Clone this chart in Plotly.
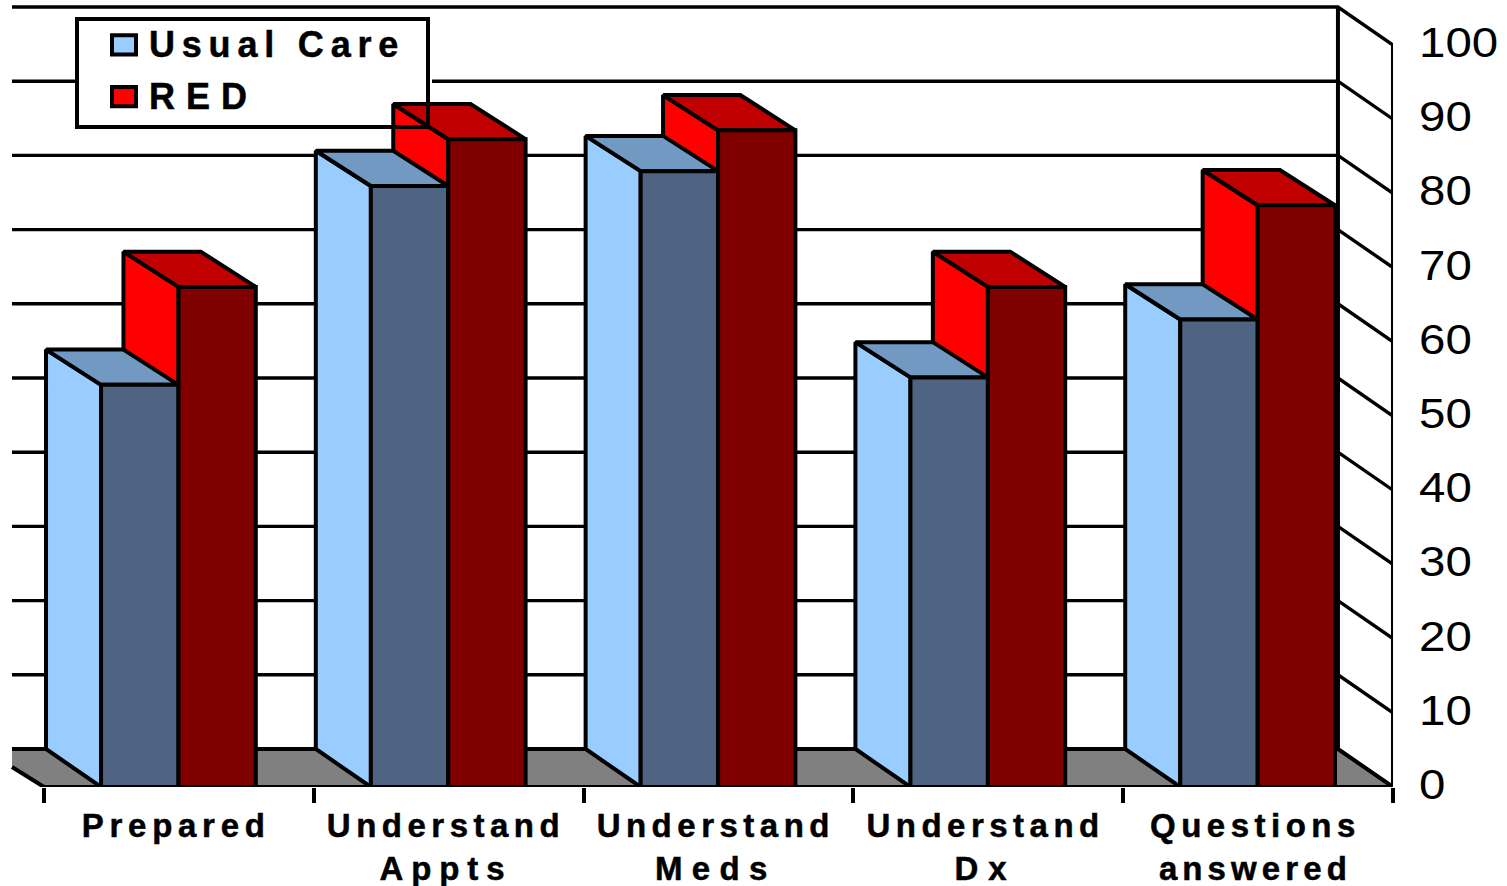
import plotly.graph_objects as go

# Chart data
categories = ["Prepared", "Understand<br>Appts", "Understand<br>Meds", "Understand<br>Dx", "Questions<br>answered"]
usual_care = [54.2, 81, 83, 55.2, 63]
red = [67.4, 87.3, 88.5, 67.4, 78.4]
y_ticks = list(range(0, 101, 10))

# Colours of the three visible faces of each column
UC_FRONT, UC_SIDE, UC_TOP = "#4F6482", "#99CCFF", "#7299C2"
RED_FRONT, RED_SIDE, RED_TOP = "#800000", "#FF0000", "#C00000"
FLOOR = "#808080"
INK = "black"
LW = 4

# Plot frame, in pixels: one category unit across, one percent up
PX_X, PX_Y = 269.8, 7.42
LEFT_PAD, PLOT_BOTTOM = 44, 787
PLOT_W = 1393


def ux(px):
    return (px - LEFT_PAD) / PX_X


def uy(px):
    return (PLOT_BOTTOM - px) / PX_Y


# Oblique depth of the box: horizontal shift, lift of the floor, lift of column tops
DEPTH_X = 0.204
DEPTH_FLOOR = 5.12
DEPTH_TOP = 4.75
WALL_LEFT = ux(12)

# Column edges inside a category cell
UC_L, UC_R = 0.2115, 0.4985
RED_L, RED_R = 0.4985, 0.785

fig = go.Figure()


def poly(xs, ys, fill=None, width=LW):
    """Add a closed filled polygon, or an open polyline when fill is None."""
    fig.add_trace(go.Scatter(
        x=xs, y=ys, mode="lines", showlegend=False, hoverinfo="skip",
        fill="toself" if fill else "none", fillcolor=fill,
        line=dict(color=INK, width=width), xaxis="x", yaxis="y",
    ))


# Back wall gridlines and the slanted part on the right wall
back_x = 5 - DEPTH_X
for t in y_ticks:
    poly([WALL_LEFT, back_x, 5], [t + DEPTH_FLOOR, t + DEPTH_FLOOR, t], width=3.4)
poly([back_x, back_x], [DEPTH_FLOOR, 100 + DEPTH_FLOOR])
poly([5, 5], [0, 100])

# Floor
floor_left = uy(767)
poly([WALL_LEFT, back_x, 5, 0, WALL_LEFT],
     [DEPTH_FLOOR, DEPTH_FLOOR, 0, 0, floor_left], fill=FLOOR)

# White panel behind the legend, underneath the columns
leg_l, leg_r, leg_t, leg_b = ux(76), ux(432), uy(18), uy(127)
fig.add_trace(go.Scatter(
    x=[leg_l, leg_r, leg_r, leg_l], y=[leg_t, leg_t, leg_b, leg_b],
    mode="lines", fill="toself", fillcolor="white", line=dict(width=0),
    showlegend=False, hoverinfo="skip", xaxis="x", yaxis="y",
))


def box_faces(left, right, values, side_col, top_col):
    for i, v in enumerate(values):
        xl, xr = i + left, i + right
        poly([xl, xl - DEPTH_X, xl - DEPTH_X, xl, xl],
             [0, DEPTH_FLOOR, v + DEPTH_TOP, v, 0], fill=side_col)
        poly([xl, xl - DEPTH_X, xr - DEPTH_X, xr, xl],
             [v, v + DEPTH_TOP, v + DEPTH_TOP, v, v], fill=top_col)


# The RED series sits behind Usual Care
box_faces(RED_L, RED_R, red, RED_SIDE, RED_TOP)
box_faces(UC_L, UC_R, usual_care, UC_SIDE, UC_TOP)

# Front faces go on an overlaid axis so that they stack above the sides
for name, left, right, vals, col in [
    ("Usual Care", UC_L, UC_R, usual_care, UC_FRONT),
    ("RED", RED_L, RED_R, red, RED_FRONT),
]:
    fig.add_trace(go.Bar(
        name=name, x=[i + (left + right) / 2 for i in range(len(vals))], y=vals,
        width=right - left, marker=dict(color=col, line=dict(color=INK, width=LW)),
        xaxis="x", yaxis="y2", hoverinfo="skip",
    ))

# Front edge of the floor, over the column bases
fig.add_trace(go.Scatter(
    x=[0, 5], y=[0, 0], mode="lines", line=dict(color=INK, width=4),
    showlegend=False, hoverinfo="skip", xaxis="x", yaxis="y2", cliponaxis=False,
))

fig.update_traces(cliponaxis=False, selector=dict(type="scatter"))
fig.update_traces(cliponaxis=False, selector=dict(type="bar"))

y_range = [0, uy(0)]
fig.update_layout(
    width=1507, height=886,
    margin=dict(l=0, r=1507 - PLOT_W, t=0, b=886 - PLOT_BOTTOM, autoexpand=False),
    paper_bgcolor="white", plot_bgcolor="white",
    barmode="overlay",
    font=dict(family="Liberation Sans", color="black"),
    xaxis=dict(
        range=[ux(0), 5], showgrid=False, zeroline=False, showline=False,
        tickmode="array", tickvals=[i + 0.49 for i in range(len(categories))],
        ticktext=categories, ticks="", ticklabelstandoff=16,
        tickfont=dict(size=33, family="Liberation Sans", weight="bold"),
        minor=dict(tickmode="array", tickvals=list(range(len(categories) + 1)),
                   ticks="outside", ticklen=15, tickwidth=4, tickcolor=INK, showgrid=False),
    ),
    yaxis=dict(
        range=y_range, side="right", showgrid=False, zeroline=False, showline=False,
        tickmode="array", tickvals=y_ticks, ticks="", ticklabelstandoff=25,
        tickfont=dict(size=43, family="Liberation Sans"),
    ),
    yaxis2=dict(range=y_range, overlaying="y", side="right", visible=False),
    legend=dict(
        x=75 / PLOT_W, xanchor="left", y=1 - 17 / PLOT_BOTTOM, yanchor="top",
        bgcolor="rgba(0,0,0,0)", bordercolor=INK, borderwidth=4,
        font=dict(size=36, family="Liberation Sans", weight="bold"),
        itemwidth=60, traceorder="normal",
        itemclick=False, itemdoubleclick=False,
    ),
    showlegend=True,
)

# Wide tracking, stretched numerals and the legend frame, set on the SVG directly
post_js = """
var root = document.getElementById('{plot_id}');
var tracking = {'Prepared':5.7,'Understand':5.5,'Appts':7.9,'Meds':9.3,'Dx':10,
                'Questions':5.5,'answered':5.1,'Usual Care':6.8,'RED':11};
var swatches = ['#99CCFF','#FF0000'];
var rowShift = [-8,-6];
root.querySelectorAll('.xtick text').forEach(function(t){
  t.style.stroke='black'; t.style.strokeWidth='0.5px';
  var lines = t.querySelectorAll('tspan.line');
  if(!lines.length){lines=[t];}
  lines.forEach(function(l){
    var s = tracking[l.textContent.trim()];
    if(s!==undefined){l.style.letterSpacing = s+'px';}
  });
});
root.querySelectorAll('.legendtext').forEach(function(t){
  t.style.stroke='black'; t.style.strokeWidth='0.5px';
  var s = tracking[t.textContent.trim()];
  if(s!==undefined){t.style.letterSpacing = s+'px';}
});
root.querySelectorAll('.ytick text').forEach(function(t){
  var n = t.textContent.trim().length;
  t.setAttribute('textLength', String(n*26.4));
  t.setAttribute('lengthAdjust','spacingAndGlyphs');
  t.setAttribute('dy','-3');
});
root.querySelectorAll('.legend .scrollbox').forEach(function(g){g.removeAttribute('clip-path');});
root.querySelectorAll('.legend .bg').forEach(function(r){
  r.setAttribute('width','351');
  r.setAttribute('height','108');
});
root.querySelectorAll('.legend .traces').forEach(function(g,i){
  var m = /translate\\(([-\\d.]+),\\s*([-\\d.]+)\\)/.exec(g.getAttribute('transform'));
  if(m){g.setAttribute('transform','translate('+m[1]+','+(parseFloat(m[2])+rowShift[i])+')');}
  g.querySelectorAll('path').forEach(function(p){
    p.setAttribute('transform','translate(45,2) scale(2.0,1.6)');
    p.style.vectorEffect='non-scaling-stroke';
    p.style.strokeWidth='4px';
    p.style.fill=swatches[i];
  });
});
"""

fig.write_html("out.html", post_script=post_js, config=dict(displayModeBar=False))
